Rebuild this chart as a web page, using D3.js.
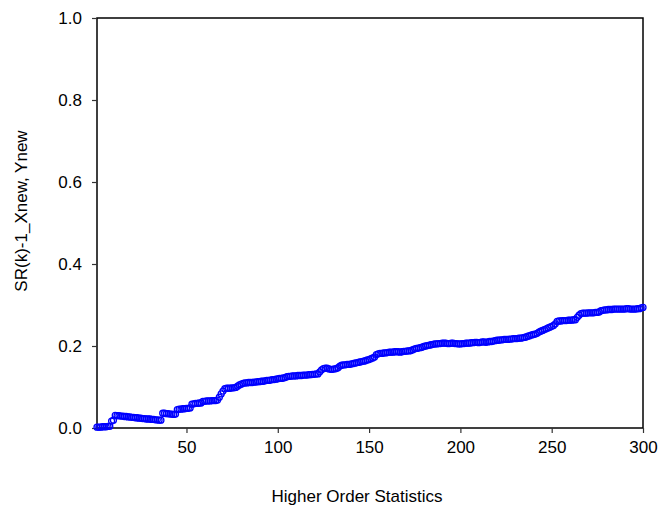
<!DOCTYPE html>
<html>
<head>
<meta charset="utf-8">
<script src="https://cdn.jsdelivr.net/npm/d3@7"></script>
<style>
  html, body { margin: 0; padding: 0; background: #fff; }
  svg text { font-family: "Liberation Sans", Arial, sans-serif; }
</style>
</head>
<body>
<svg id="chart" width="662" height="506"></svg>
<script>
// ---- data ----
const xTicks = [50, 100, 150, 200, 250, 300];
const yTicks = [0.0, 0.2, 0.4, 0.6, 0.8, 1.0];
const xLabel = "Higher Order Statistics";
const yLabel = "SR(k)-1_Xnew, Ynew";
// SR(k)-1 values for k = 1..300
const ynew = [
  0.002,0.002,0.002,0.003,0.003,0.003,0.004,0.004,0.017,0.019,
  0.031,0.030,0.030,0.029,0.029,0.028,0.028,0.027,0.027,0.026,
  0.026,0.025,0.025,0.024,0.024,0.023,0.023,0.022,0.022,0.022,
  0.021,0.021,0.020,0.020,0.019,0.019,
  0.036,0.036,0.035,0.035,0.034,0.034,0.033,0.034,
  0.045,0.046,0.046,0.047,0.047,0.048,0.048,0.049,
  0.058,0.059,0.060,0.060,0.061,0.061,
  0.065,0.065,0.066,0.066,0.066,0.067,0.067,0.067,0.068,
  0.075,0.083,0.090,
  0.096,0.097,0.097,0.097,0.098,0.098,0.099,
  0.102,0.105,0.107,0.109,
  0.110,0.110,0.111,0.111,0.111,0.112,0.112,0.113,0.113,0.114,
  0.114,0.115,0.116,0.116,0.117,0.118,0.118,0.119,0.120,0.121,
  0.121,0.122,0.123,
  0.125,0.126,0.126,0.127,0.127,0.127,0.128,0.128,0.128,0.129,0.129,
  0.129,0.130,0.130,0.131,0.131,0.132,0.132,
  0.137,0.142,0.145,0.146,0.146,
  0.144,0.143,0.143,0.144,0.145,0.147,
  0.151,0.153,0.154,0.154,0.155,0.155,0.156,0.157,
  0.158,0.159,0.160,0.161,0.162,0.163,0.164,0.166,0.167,0.169,
  0.171,0.173,
  0.179,0.181,0.182,0.182,0.183,0.183,
  0.184,0.185,0.185,0.185,0.186,0.186,0.186,0.185,0.186,0.187,0.187,0.188,0.188,0.189,
  0.191,0.193,0.194,0.195,0.196,0.197,0.199,0.200,0.201,0.202,0.203,
  0.204,0.205,0.205,0.206,0.206,0.207,0.207,0.207,0.206,0.206,0.207,0.207,0.206,0.206,0.205,0.205,0.206,
  0.206,0.207,0.207,0.207,
  0.208,0.208,0.209,0.209,0.208,0.209,0.210,0.210,0.209,0.210,0.211,0.211,0.212,
  0.213,0.214,0.214,0.215,0.215,0.216,0.216,0.216,0.217,0.217,0.218,0.218,0.218,0.219,0.219,0.220,0.221,
  0.222,0.224,0.225,0.227,0.228,0.229,0.231,
  0.234,0.236,0.238,0.240,0.242,0.244,0.246,0.248,0.250,
  0.254,
  0.260,0.261,0.261,0.262,0.262,0.262,0.263,0.263,0.263,0.264,0.264,
  0.270,0.275,0.279,
  0.280,0.280,0.280,0.281,0.281,0.281,0.281,0.282,0.282,0.283,
  0.286,0.287,0.288,0.288,
  0.289,0.289,0.289,0.290,0.290,0.290,0.290,0.290,0.290,0.290,
  0.291,0.291,0.290,0.290,0.290,0.290,0.291,0.291,0.293,0.294
];
const k = ynew.map((_, i) => i + 1);

// ---- layout ----
const svg = d3.select("#chart");
const margin = { left: 97, right: 19, top: 18, bottom: 78 };
const W = 662, H = 506;
const x = d3.scaleLinear().domain([1, 300]).range([margin.left, W - margin.right]);
const y = d3.scaleLinear().domain([0, 1]).range([H - margin.bottom, margin.top]);
const FONT = "'Liberation Sans', Arial, sans-serif";

// frame
svg.append("rect")
  .attr("x", margin.left).attr("y", margin.top)
  .attr("width", W - margin.right - margin.left)
  .attr("height", H - margin.bottom - margin.top)
  .attr("fill", "none").attr("stroke", "#000").attr("stroke-width", 1.5);

// axes
const xAxis = svg.append("g")
  .attr("transform", `translate(0,${H - margin.bottom})`)
  .call(d3.axisBottom(x).tickValues(xTicks).tickFormat(d3.format("d")).tickSizeOuter(0).tickSizeInner(5).tickPadding(8));
const yAxis = svg.append("g")
  .attr("transform", `translate(${margin.left},0)`)
  .call(d3.axisLeft(y).tickValues(yTicks).tickFormat(d3.format(".1f")).tickSizeOuter(0).tickSizeInner(5).tickPadding(10));
[xAxis, yAxis].forEach(g => {
  g.select(".domain").remove();
  g.selectAll(".tick line").attr("stroke", "#333").attr("stroke-width", 1.2);
  g.selectAll(".tick text").attr("font-size", 17).attr("fill", "#000").attr("font-family", FONT);
});

// points
svg.append("g").selectAll("circle")
  .data(k.map((kk, i) => ({ k: kk, v: ynew[i] })))
  .join("circle")
  .attr("cx", d => x(d.k))
  .attr("cy", d => y(d.v))
  .attr("r", 3)
  .attr("fill", "none")
  .attr("stroke", "#0000ff")
  .attr("stroke-width", 1.3);

// labels
svg.append("text")
  .attr("x", 357)
  .attr("y", 502)
  .attr("text-anchor", "middle")
  .attr("font-size", 17)
  .attr("font-family", FONT)
  .text(xLabel);
svg.append("text")
  .attr("transform", `translate(27,211) rotate(-90)`)
  .attr("text-anchor", "middle")
  .attr("font-size", 17)
  .attr("font-family", FONT)
  .text(yLabel);
</script>
</body>
</html>
